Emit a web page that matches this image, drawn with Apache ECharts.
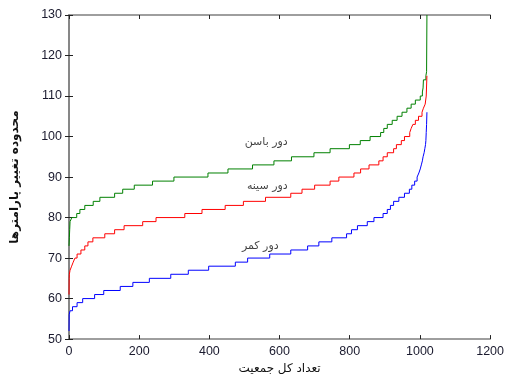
<!DOCTYPE html>
<html>
<head>
<meta charset="utf-8">
<script src="https://cdn.jsdelivr.net/npm/echarts@6/dist/echarts.min.js"></script>
<style>
  html, body { margin: 0; padding: 0; background: #fff; }
  #chart { width: 507px; height: 380px; }
</style>
</head>
<body>
<div id="chart"></div>
<script>
// x ticks and y ticks
const xTicks = [0, 200, 400, 600, 800, 1000, 1200]
const yTicks = [50, 60, 70, 80, 90, 100, 110, 120, 130]

// step points: [population index where the level starts, level]
// دور باسن (green)
const hipSteps = [
  [0, 73], [1, 75], [2, 77], [3, 79], [8, 80], [22, 81], [31, 82], [45, 83], [69, 84],
  [88, 85], [130, 86], [153, 87], [186, 88], [238, 89], [299, 90], [396, 91],
  [453, 92], [523, 93], [584, 94], [634, 95], [698, 96], [744, 97], [799, 98],
  [830, 99], [858, 100], [888, 101], [897, 102], [907, 103], [921, 104], [935, 105],
  [949, 106], [963, 107], [975, 108], [987, 109], [1001, 110], [1007, 111],
  [1009, 112], [1010, 114], [1017, 115], [1019, 116], [1020, 130]
]
// دور سینه (red)
const chestSteps = [
  [0, 61], [0.5, 65], [1, 66], [3, 67], [7.5, 68], [12, 69], [17, 70], [23, 71],
  [34, 72], [45, 73], [54, 74], [68, 75], [102, 76], [130, 77], [157, 78], [210, 79],
  [248, 80], [330, 81], [379, 82], [445, 83], [497, 84], [560, 85], [632, 86],
  [664, 87], [700, 88], [744, 89], [769, 90], [812, 91], [831, 92], [855, 93],
  [883, 94], [895, 95], [907, 96], [925, 97], [933, 98], [947, 99], [956, 100],
  [971, 101], [975, 102], [980, 103], [987, 104], [996, 105], [1006, 106],
  [1010, 107], [1015, 108], [1018, 110], [1020, 115]
]
// دور کمر (blue)
const waistSteps = [
  [0, 52], [0.5, 56], [3, 57], [10, 58], [23, 59], [39, 60], [73, 61], [99, 62],
  [146, 63], [182, 64], [229, 65], [290, 66], [340, 67], [398, 68], [474, 69],
  [509, 70], [572, 71], [632, 72], [680, 73], [712, 74], [749, 75], [791, 76],
  [805, 77], [822, 78], [850, 79], [869, 80], [895, 81], [907, 82], [916, 83],
  [925, 84], [940, 85], [956, 86], [970, 87], [977, 88], [985, 89], [992, 90],
  [997, 91], [1001, 92], [1004, 93], [1007, 94], [1009, 95], [1012, 96],
  [1014, 97], [1016, 98], [1017, 99], [1018, 101], [1019, 103], [1020, 106]
]

// in-plot text labels
const seriesLabels = [
  [562, 98.5, 'دور باسن'],
  [565, 87.8, 'دور سینه'],
  [545, 73, 'دور کمر']
]

const chart = echarts.init(document.getElementById('chart'))

const axisGray = '#7f7f7f'
const tickFont = { fontFamily: 'Liberation Sans, Arial', fontSize: 12.5, color: '#1a1a2e' }

function stepSeries(data, color) {
  return {
    type: 'line',
    data: data,
    step: 'end',
    symbol: 'none',
    animation: false,
    lineStyle: { color: color, width: 1 },
    xAxisIndex: 0,
    yAxisIndex: 0
  }
}

chart.setOption({
  animation: false,
  grid: { left: 69, right: 13, top: 15, bottom: 30, containLabel: false },
  xAxis: [
    {
      type: 'value',
      min: xTicks[0],
      max: xTicks[xTicks.length - 1],
      interval: 200,
      name: 'تعداد کل جمعیت',
      nameLocation: 'middle',
      nameGap: 23,
      nameTextStyle: { fontFamily: 'DejaVu Sans', fontSize: 12, color: '#111' },
      axisLine: { lineStyle: { color: axisGray, width: 1.5 } },
      axisTick: { inside: true, length: 4, lineStyle: { color: '#222' } },
      axisLabel: Object.assign({ margin: 6, formatter: v => String(v) }, tickFont),
      splitLine: { show: false }
    },
    {
      type: 'value',
      position: 'top',
      min: xTicks[0],
      max: xTicks[xTicks.length - 1],
      interval: 200,
      axisLine: { show: true, lineStyle: { color: axisGray, width: 1.5 } },
      axisTick: { inside: true, length: 4, lineStyle: { color: '#222' } },
      axisLabel: { show: false },
      splitLine: { show: false }
    }
  ],
  yAxis: [
    {
      type: 'value',
      min: yTicks[0],
      max: yTicks[yTicks.length - 1],
      interval: 10,
      name: 'محدوده تغییر پارامترها',
      nameLocation: 'middle',
      nameGap: 48,
      nameRotate: 90,
      nameTextStyle: { fontFamily: 'DejaVu Sans', fontSize: 12, fontWeight: 'bold', color: '#111' },
      axisLine: { show: true, lineStyle: { color: axisGray, width: 1.5 } },
      axisTick: { show: true, inside: true, length: 4, lineStyle: { color: '#222' } },
      axisLabel: Object.assign({ margin: 7 }, tickFont),
      splitLine: { show: false }
    },
    {
      type: 'value',
      position: 'right',
      min: yTicks[0],
      max: yTicks[yTicks.length - 1],
      interval: 10,
      axisLine: { show: true, lineStyle: { color: axisGray, width: 1.5 } },
      axisTick: { show: true, inside: true, length: 4, lineStyle: { color: '#222' } },
      axisLabel: { show: false },
      splitLine: { show: false }
    }
  ],
  series: [
    stepSeries(hipSteps, '#008000'),
    stepSeries(chestSteps, '#ff0000'),
    stepSeries(waistSteps, '#0000ff'),
    {
      type: 'scatter',
      data: seriesLabels.map(d => ({ value: [d[0], d[1]], name: d[2] })),
      symbolSize: 0,
      silent: true,
      label: {
        show: true,
        position: 'inside',
        formatter: p => p.name,
        fontFamily: 'DejaVu Sans',
        fontSize: 11,
        color: '#111'
      }
    }
  ]
})
</script>
</body>
</html>
